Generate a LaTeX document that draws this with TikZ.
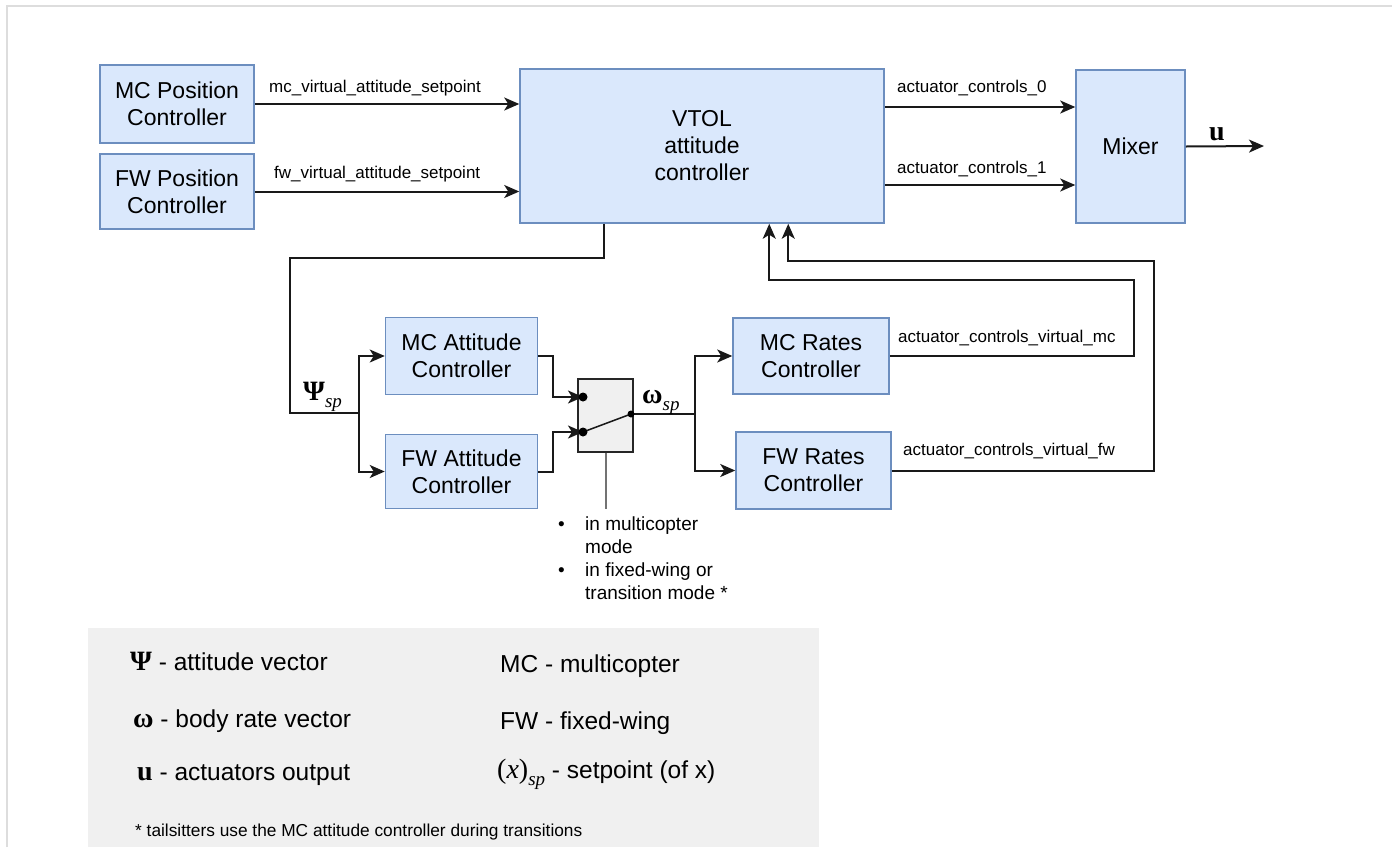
\documentclass[tikz,border=0pt]{standalone}
\usepackage{fontspec}
\setmainfont{Liberation Sans}
\newfontfamily\mserif{Liberation Serif}
\usetikzlibrary{arrows.meta,calc}
\definecolor{boxfill}{HTML}{DAE8FC}
\definecolor{boxline}{HTML}{6C8EBF}
\definecolor{legfill}{HTML}{F0F0F0}
\definecolor{swfill}{HTML}{F0F0F0}
\definecolor{framegray}{HTML}{DDDDDD}
\newcommand{\mathbig}[1]{{\mserif\fontsize{28}{30}\selectfont #1}}
\newcommand{\subsp}{\raisebox{-7pt}{\mserif\itshape\fontsize{19}{19}\selectfont sp}}
\begin{document}
\begin{tikzpicture}[x=1pt,y=-1pt,
  ctrl/.style={draw=boxline, fill=boxfill, line width=1.5pt, inner sep=0pt, align=center,
    font=\fontsize{23}{27}\selectfont},
  swbox/.style={draw=black!85, fill=swfill, line width=1.5pt, inner sep=0pt},
  wire/.style={draw=black!90, line width=2pt},
  arr/.style={wire, -{Stealth[length=15pt,width=13pt,inset=4pt]}},
  lbl/.style={font=\fontsize{17}{20}\selectfont, inner sep=0pt},
  note/.style={font=\fontsize{19}{23}\selectfont, inner sep=0pt, anchor=base west},
  leg/.style={font=\fontsize{24.5}{28}\selectfont, inner sep=0pt, anchor=base west},
  dot/.style={fill=black}]
\useasboundingbox (0,0) rectangle (1392,847);
\fill[white] (0,0) rectangle (1392,847);
\draw[framegray, line width=2pt] (7,847) -- (7,6) -- (1392,6);
\fill[legfill] (88,628) rectangle (819,847);

% blocks
\node[ctrl, minimum width=154, minimum height=78] (mcpos) at (177,104) {MC Position\\Controller};
\node[ctrl, minimum width=154, minimum height=75] (fwpos) at (177,191.5) {FW Position\\Controller};
\node[ctrl, minimum width=364, minimum height=154] (vtol) at (702,146) {VTOL\\attitude\\controller};
\node[ctrl, minimum width=109, minimum height=153] (mixer) at (1130.5,146.5) {Mixer};
\node[ctrl, minimum width=152, minimum height=77] (mcatt) at (461.5,356) {MC Attitude\\Controller};
\node[ctrl, minimum width=152, minimum height=74] (fwatt) at (461.5,471.5) {FW Attitude\\Controller};
\node[swbox, minimum width=55, minimum height=73] (sw) at (605.5,415.5) {};
\node[ctrl, minimum width=156, minimum height=76] (mcrate) at (811,356) {MC Rates\\Controller};
\node[ctrl, minimum width=155, minimum height=77] (fwrate) at (813.5,470.5) {FW Rates\\Controller};

% helper points
\coordinate (swA) at (583,397);
\coordinate (swB) at (583,432);
\coordinate (swO) at (631,414);
\coordinate (jpsi) at (359,413);
\coordinate (jom) at (695,414);
\coordinate (psicorner) at (290,258);
\coordinate (fbmc) at (1134,280);
\coordinate (fbfw) at (1154,261);
\coordinate (uend) at (1264,146);
\coordinate (swnote) at (606,509);

% connectors
\draw[arr] (mcpos.east) -- (mcpos.east -| vtol.west);
\draw[arr] (fwpos.east) -- (fwpos.east -| vtol.west);
\draw[arr] ([yshift=39pt]vtol.east) -- ([yshift=39pt]vtol.east -| mixer.west);
\draw[arr] ([yshift=-39pt]vtol.east) -- ([yshift=-39pt]vtol.east -| mixer.west);
\draw[arr] (mixer.east) -- (uend);
\draw[wire] ([xshift=85pt]vtol.south west) |- (psicorner) |- (jpsi);
\draw[arr] (jpsi) |- (mcatt.west);
\draw[arr] (jpsi) |- (fwatt.west);
\draw[arr] (mcatt.east) -- ++(15,0) |- (swA);
\draw[arr] (fwatt.east) -- ++(15,0) |- (swB);
\draw[wire] (swO) -- (jom);
\draw[arr] (jom) |- (mcrate.west);
\draw[arr] (jom) |- (fwrate.west);
\draw[arr] (mcrate.east) -| (fbmc) -| ([xshift=250pt]vtol.south west);
\draw[arr] (fwrate.east) -| (fbfw) -| ([xshift=269pt]vtol.south west);

% switch internals
\draw[black!90, line width=1.5pt] (swB) -- (swO);
\fill[dot] (swA) circle[radius=4.5pt];
\fill[dot] (swB) circle[radius=4.5pt];
\fill[dot] (swO) circle[radius=3.5pt];
\draw[black!55, line width=2pt] (sw.south -| swnote) -- (swnote);

% connector labels
\node[lbl, anchor=base west] (l1) at (269,92) {mc\_virtual\_attitude\_setpoint};
\node[lbl, anchor=base west] (l2) at (274,178) {fw\_virtual\_attitude\_setpoint};
\node[lbl, anchor=base west] (l3) at (897,92) {actuator\_controls\_0};
\node[lbl, anchor=base west] (l4) at (897,173) {actuator\_controls\_1};
\node[lbl, anchor=base west] (l5) at (898,342) {actuator\_controls\_virtual\_mc};
\node[lbl, anchor=base west] (l6) at (903,455) {actuator\_controls\_virtual\_fw};
\node[inner sep=0pt, anchor=base west] (ulbl) at (1209,140) {\mathbig{\bfseries u}};
\node[inner sep=0pt, anchor=base west] (psilbl) at (303,400) {\mathbig{\bfseries Ψ}\subsp};
\node[inner sep=0pt, anchor=base west] (omlbl) at (642,403) {\mathbig{\bfseries ω}\subsp};

% switch note
\node[note] (b1) at (558,530) {•};
\node[note] (t1a) at (585,530) {in multicopter};
\node[note] (t1b) at (585,553) {mode};
\node[note] (b2) at (558,576) {•};
\node[note] (t2a) at (585,576) {in fixed-wing or};
\node[note] (t2b) at (585,599) {transition mode *};

% legend
\node[leg] (g1) at (130,670) {\mathbig{\bfseries Ψ} - attitude vector};
\node[leg] (g2) at (133,727) {\mathbig{\bfseries ω} - body rate vector};
\node[leg] (g3) at (137,780) {\mathbig{\bfseries u} - actuators output};
\node[leg] (g4) at (500,672) {MC - multicopter};
\node[leg] (g5) at (500,729) {FW - fixed-wing};
\node[leg] (g6) at (497,778) {\mathbig{(\textit{x})}\subsp\ - setpoint (of x)};
\node[inner sep=0pt, anchor=base west, font=\fontsize{17.3}{20}\selectfont] (g7) at (135,836) {* tailsitters use the MC attitude controller during transitions};
\end{tikzpicture}
\end{document}
